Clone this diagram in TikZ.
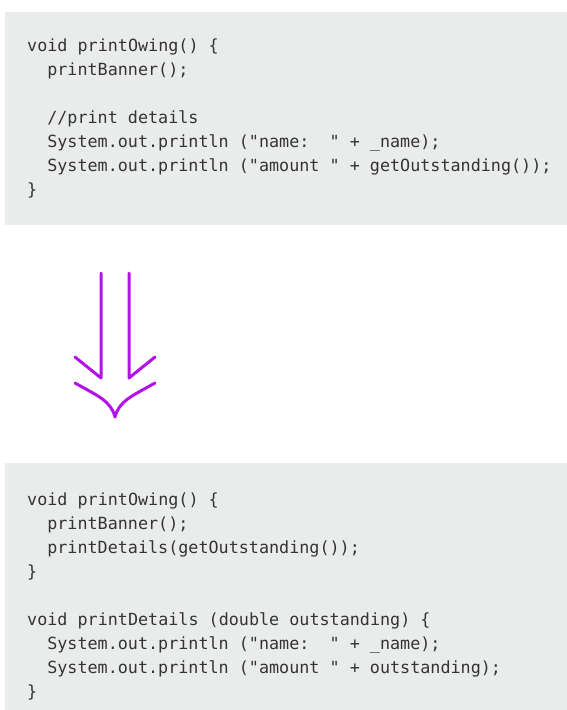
\documentclass[tikz,border=0pt]{standalone}
\usepackage{fontspec}
\setmonofont{DejaVu Sans Mono}
\definecolor{codebg}{RGB}{234,235,235}
\definecolor{codefg}{RGB}{52,52,52}
\definecolor{refac}{RGB}{178,18,232}
\newcommand{\codeindent}{\hspace*{1.2em}}
\tikzset{
  codebox/.style={fill=codebg, draw=none},
  codeline/.style={anchor=base west, inner sep=0pt, text=codefg,
    font=\ttfamily\fontsize{16.75}{24}\selectfont},
  refarrow/.style={draw=refac, line width=3pt, line cap=round, line join=round}
}
\begin{document}
\begin{tikzpicture}[x=1pt,y=-1pt]
  \useasboundingbox (0,0) rectangle (567,710);
  % before: the long method
  \path[codebox] (5,12) rectangle (567,225);
  \node[codeline] (a1) at (27,51)  {void printOwing() \{};
  \node[codeline] (a2) at (27,75)  {\codeindent printBanner();};
  \node[codeline] (a3) at (27,123) {\codeindent //print details};
  \node[codeline] (a4) at (27,147) {\codeindent System.out.println ("name:~~" + \_name);};
  \node[codeline] (a5) at (27,171) {\codeindent System.out.println ("amount " + getOutstanding());};
  \node[codeline] (a6) at (27,195) {\}};
  % refactoring arrow
  \coordinate (lt) at (101,273);
  \coordinate (lb) at (101,378);
  \coordinate (rt) at (129,273);
  \coordinate (rb) at (129,378);
  \coordinate (tip) at (115,417);
  \draw[refarrow] (lt) -- (lb) -- (75,357);
  \draw[refarrow] (rt) -- (rb) -- (155,357);
  \draw[refarrow] (75,383) .. controls (98,396) and (111,401) .. (tip)
                  .. controls (119,401) and (132,396) .. (155,383);
  % after: extracted method
  \path[codebox] (5,463) rectangle (567,710);
  \node[codeline] (b1) at (27,505) {void printOwing() \{};
  \node[codeline] (b2) at (27,529) {\codeindent printBanner();};
  \node[codeline] (b3) at (27,553) {\codeindent printDetails(getOutstanding());};
  \node[codeline] (b4) at (27,577) {\}};
  \node[codeline] (b5) at (27,625) {void printDetails (double outstanding) \{};
  \node[codeline] (b6) at (27,649) {\codeindent System.out.println ("name:~~" + \_name);};
  \node[codeline] (b7) at (27,673) {\codeindent System.out.println ("amount " + outstanding);};
  \node[codeline] (b8) at (27,697) {\}};
\end{tikzpicture}
\end{document}
